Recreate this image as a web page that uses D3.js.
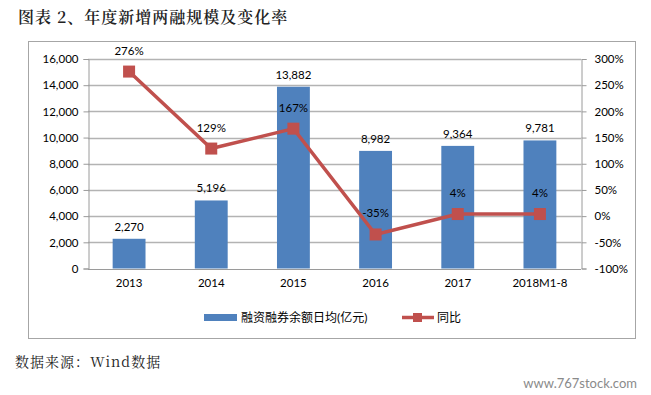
<!DOCTYPE html>
<html>
<head>
<meta charset="utf-8">
<script src="https://cdn.jsdelivr.net/npm/d3@7"></script>
<style>
body { margin: 0; background: #fff; }
text { font-family: Lato, "Noto Sans CJK SC", sans-serif; }
</style>
</head>
<body>
<div id="chart"></div>
<script>
var categories = ['2013', '2014', '2015', '2016', '2017', '2018M1-8'];
var balance = [2270, 5196, 13882, 8982, 9364, 9781];
var yoy = [276, 129, 167, -35, 4, 4];
var leftTicks = [0, 2000, 4000, 6000, 8000, 10000, 12000, 14000, 16000];
var rightTicks = [-100, -50, 0, 50, 100, 150, 200, 250, 300];

var width = 651, height = 395;
var plot = {left: 88, right: 581, top: 59, bottom: 268.5};
var barColor = '#4F81BD';
var lineColor = '#C0504D';

var svg = d3.select('#chart')
	.append('svg')
	.attr('width', width)
	.attr('height', height);

// title
svg.append('text')
	.attr('x', 18)
	.attr('y', 23)
	.style('font-family', '"Noto Serif CJK SC", "Noto Sans CJK SC", serif')
	.style('font-size', '16px')
	.style('font-weight', '600')
	.style('letter-spacing', '1px')
	.attr('fill', '#222')
	.attr('xml:space', 'preserve')
	.text('图表 2、年度新增两融规模及变化率');

// frame
svg.append('rect')
	.attr('x', 28.5)
	.attr('y', 41.5)
	.attr('width', 607)
	.attr('height', 297)
	.attr('fill', 'none')
	.attr('stroke', '#a6a6a6')
	.attr('stroke-width', 1);

var x = d3.scaleBand()
	.domain(categories)
	.range([plot.left, plot.right]);

var yLeft = d3.scaleLinear()
	.domain([0, 16000])
	.range([plot.bottom, plot.top]);

var yRight = d3.scaleLinear()
	.domain([-100, 300])
	.range([plot.bottom, plot.top]);

// gridlines
svg.append('g')
	.selectAll('line')
	.data(leftTicks.slice(1))
	.enter()
	.append('line')
	.attr('x1', plot.left)
	.attr('x2', plot.right)
	.attr('y1', function(d){ return Math.round(yLeft(d)) + 0.5; })
	.attr('y2', function(d){ return Math.round(yLeft(d)) + 0.5; })
	.attr('stroke', '#b3b3b3')
	.attr('stroke-width', 1.3);

// bars
var barWidth = x.bandwidth() * 0.4;
svg.append('g')
	.selectAll('rect')
	.data(balance)
	.enter()
	.append('rect')
	.attr('x', function(d, i){ return x(categories[i]) + (x.bandwidth() - barWidth) / 2; })
	.attr('y', function(d){ return yLeft(d); })
	.attr('width', barWidth)
	.attr('height', function(d){ return yLeft(0) - yLeft(d); })
	.attr('fill', barColor);

// left axis
var leftAxis = svg.append('g')
	.attr('transform', 'translate(' + (plot.left + 0.5) + ',0)')
	.call(d3.axisLeft(yLeft).tickValues(leftTicks).tickSize(5).tickFormat(d3.format(',')));

// right axis
var rightAxis = svg.append('g')
	.attr('transform', 'translate(' + (plot.right + 0.5) + ',0)')
	.call(d3.axisRight(yRight).tickValues(rightTicks).tickSize(5).tickFormat(function(d){ return d + '%'; }));

// bottom axis
var bottomAxis = svg.append('g')
	.attr('transform', 'translate(0,' + (Math.round(plot.bottom) + 0.5) + ')')
	.call(d3.axisBottom(x).tickSize(0).tickPadding(9));

[leftAxis, rightAxis, bottomAxis].forEach(function(a){
	a.select('.domain').attr('stroke', '#9a9a9a');
	a.selectAll('.tick line').attr('stroke', '#9a9a9a');
	a.selectAll('text').style('font-size', '11.5px').attr('fill', '#000');
});
leftAxis.selectAll('text').attr('x', -10);
rightAxis.selectAll('text').attr('x', 13);

// bottom axis needs its domain line across full width
bottomAxis.select('.domain').attr('d', 'M' + plot.left + ',0H' + plot.right);

// bar labels
svg.append('g')
	.selectAll('text')
	.data(balance)
	.enter()
	.append('text')
	.attr('x', function(d, i){ return x(categories[i]) + x.bandwidth() / 2; })
	.attr('y', function(d){ return yLeft(d) - 8; })
	.attr('text-anchor', 'middle')
	.style('font-size', '11.5px')
	.text(d3.format(','));

// yoy line
var line = d3.line()
	.x(function(d, i){ return x(categories[i]) + x.bandwidth() / 2; })
	.y(function(d){ return yRight(d); });

svg.append('path')
	.datum(yoy)
	.attr('d', line)
	.attr('fill', 'none')
	.attr('stroke', lineColor)
	.attr('stroke-width', 3.5);

svg.append('g')
	.selectAll('rect')
	.data(yoy)
	.enter()
	.append('rect')
	.attr('x', function(d, i){ return x(categories[i]) + x.bandwidth() / 2 - 6; })
	.attr('y', function(d){ return yRight(d) - 6; })
	.attr('width', 12)
	.attr('height', 12)
	.attr('fill', lineColor);

svg.append('g')
	.selectAll('text')
	.data(yoy)
	.enter()
	.append('text')
	.attr('x', function(d, i){ return x(categories[i]) + x.bandwidth() / 2; })
	.attr('y', function(d){ return yRight(d) - 17; })
	.attr('text-anchor', 'middle')
	.style('font-size', '11.5px')
	.text(function(d){ return d + '%'; });

// legend
var legend = svg.append('g');
legend.append('rect')
	.attr('x', 204)
	.attr('y', 314)
	.attr('width', 33)
	.attr('height', 7)
	.attr('fill', barColor);
legend.append('text')
	.attr('x', 241)
	.attr('y', 322)
	.style('font-size', '12px')
	.text('融资融券余额日均(亿元)');
legend.append('line')
	.attr('x1', 402)
	.attr('x2', 434)
	.attr('y1', 317.5)
	.attr('y2', 317.5)
	.attr('stroke', lineColor)
	.attr('stroke-width', 3.5);
legend.append('rect')
	.attr('x', 413)
	.attr('y', 313)
	.attr('width', 9)
	.attr('height', 9)
	.attr('fill', lineColor);
legend.append('text')
	.attr('x', 437)
	.attr('y', 322)
	.style('font-size', '12px')
	.text('同比');

// source
svg.append('text')
	.attr('x', 15)
	.attr('y', 367)
	.style('font-family', '"Noto Serif CJK SC", "Noto Sans CJK SC", serif')
	.style('font-size', '14px')
	.style('letter-spacing', '1px')
	.attr('fill', '#222')
	.text('数据来源：Wind数据');

svg.append('text')
	.attr('x', 637)
	.attr('y', 388)
	.attr('text-anchor', 'end')
	.style('font-size', '13px')
	.attr('fill', '#8a8a8a')
	.text('www.767stock.com');
</script>
</body>
</html>
